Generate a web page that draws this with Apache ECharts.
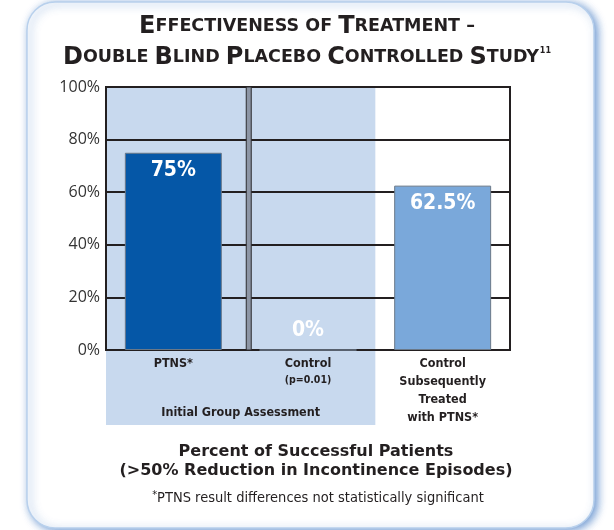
<!DOCTYPE html>
<html>
<head>
<meta charset="utf-8">
<script src="https://cdn.jsdelivr.net/npm/echarts@6/dist/echarts.min.js"></script>
<style>
  html, body { margin: 0; padding: 0; background: #fff; }
  #chart { width: 614px; height: 530px; }
</style>
</head>
<body>
<div id="chart"></div>
<script>
// data
var categories = ['PTNS*', 'Control', 'Control Subsequently Treated with PTNS*'];
var catLines = [['PTNS*'], ['Control'], ['Control', 'Subsequently', 'Treated', 'with PTNS*']];
var catNotes = ['', '(p=0.01)', ''];
var values = [75, 0, 62.5];
var valueLabels = ['75%', '0%', '62.5%'];
var barColors = ['#0557a7', '#7aa8da', '#7aa8da'];

var narrow = '"DejaVu Sans Condensed", "Liberation Sans Narrow", "Liberation Sans", sans-serif';
var heavy = '"DejaVu Sans", sans-serif';

var myChart = echarts.init(document.getElementById('chart'));

var option = {
  animation: false,
  title: [
    {
      left: 'center',
      top: 6,
      text: '{b|E}{s|FFECTIVENESS OF }{b|T}{s|REATMENT –}\n' +
        '{b|D}{s|OUBLE }{b|B}{s|LIND }{b|P}{s|LACEBO }{b|C}{s|ONTROLLED }{b|S}{s|TUDY}{sup|11}',
      textStyle: {
        rich: {
          b: { fontFamily: heavy, fontWeight: 'bold', fontSize: 24, color: '#231f20', lineHeight: 31 },
          s: { fontFamily: heavy, fontWeight: 'bold', fontSize: 17.5, color: '#231f20', lineHeight: 31 },
          sup: { fontFamily: heavy, fontWeight: 'bold', fontSize: 8, color: '#231f20', lineHeight: 31, padding: [0, 0, 13, 1] }
        }
      }
    }
  ],
  grid: {
    left: 106,
    right: 104,
    top: 87,
    bottom: 180,
    show: true,
    borderColor: '#231f20',
    borderWidth: 2,
    backgroundColor: 'transparent'
  },
  xAxis: {
    type: 'category',
    data: categories,
    axisTick: { show: false },
    axisLine: { lineStyle: { color: '#231f20', width: 2 } },
    axisLabel: {
      interval: 0,
      margin: 5,
      formatter: function (v, i) {
        var s = catLines[i].map(function (l) { return '{n|' + l + '}'; }).join('\n');
        if (catNotes[i]) s += '\n{p|' + catNotes[i] + '}';
        return s;
      },
      rich: {
        n: { fontFamily: narrow, fontWeight: 'bold', fontSize: 12.5, color: '#231f20', lineHeight: 18, align: 'center' },
        p: { fontFamily: narrow, fontWeight: 'bold', fontSize: 10.5, color: '#231f20', lineHeight: 14, align: 'center' }
      }
    }
  },
  yAxis: {
    type: 'value',
    min: 0,
    max: 100,
    interval: 20,
    axisLine: { show: true, lineStyle: { color: '#231f20', width: 2 } },
    axisTick: { show: false },
    splitLine: { lineStyle: { color: '#231f20', width: 2 } },
    axisLabel: {
      formatter: '{value}%',
      margin: 6,
      fontFamily: '"Open Sans", sans-serif',
      fontSize: 16,
      color: '#333'
    }
  },
  series: [
    {
      type: 'bar',
      barWidth: '72%',
      data: values.map(function (v, i) {
        var item = {
          value: v,
          itemStyle: { color: barColors[i] }
        };
        if (v === 0) {
          item.label = { position: 'top', distance: 8 };
        }
        return item;
      }),
      itemStyle: { borderColor: '#6a7888', borderWidth: 1 },
      label: {
        show: true,
        position: 'insideTop',
        distance: 7,
        formatter: function (p) { return valueLabels[p.dataIndex]; },
        fontFamily: narrow,
        fontWeight: 'bold',
        fontSize: 21,
        color: '#fff'
      }
    }
  ]
};

myChart.setOption(option);

// background shading, separator, frame and notes placed from the axes
var c0 = myChart.convertToPixel({ xAxisIndex: 0 }, 0);
var c1 = myChart.convertToPixel({ xAxisIndex: 0 }, 1);
var bandW = c1 - c0;
var yTop = myChart.convertToPixel({ yAxisIndex: 0 }, 100);
var yZero = myChart.convertToPixel({ yAxisIndex: 0 }, 0);
var shadeL = c0 - bandW / 2;
var shadeR = c1 + bandW / 2;
var sepX = c0 - bandW / 2 + bandW * 1.06;

myChart.setOption({
  graphic: [
    {
      type: 'rect',
      z: -20,
      shape: { x: 27, y: 2, width: 567, height: 526, r: 28 },
      style: {
        fill: '#fff',
        stroke: '#b8d0ec',
        lineWidth: 1.5,
        shadowColor: 'rgba(50,110,190,0.7)',
        shadowBlur: 8,
        shadowOffsetX: 3,
        shadowOffsetY: 2
      }
    },
    {
      type: 'rect',
      z: -5,
      shape: { x: shadeL, y: yTop, width: shadeR - shadeL, height: yZero - yTop + 75 },
      style: { fill: '#c8d9ee' }
    },
    {
      type: 'rect',
      z: 5,
      shape: { x: sepX - 2.5, y: yTop, width: 5, height: yZero - yTop },
      style: { fill: '#8d96a5', stroke: '#2a2a2e', lineWidth: 1 }
    },
    {
      type: 'text',
      z: 5,
      x: (shadeL + shadeR) / 2,
      y: yZero + 63,
      style: {
        text: 'Initial Group Assessment',
        fontFamily: narrow,
        fontWeight: 'bold',
        fontSize: 12.5,
        fill: '#231f20',
        align: 'center',
        verticalAlign: 'middle'
      }
    },
    {
      type: 'text',
      x: 316,
      y: 461,
      style: {
        text: 'Percent of Successful Patients\n(>50% Reduction in Incontinence Episodes)',
        fontFamily: heavy,
        fontWeight: 'bold',
        fontSize: 16,
        lineHeight: 19,
        fill: '#231f20',
        align: 'center',
        verticalAlign: 'middle'
      }
    },
    {
      type: 'text',
      x: 318,
      y: 498,
      style: {
        text: '{sup|*}{t|PTNS result differences not statistically significant}',
        align: 'center',
        verticalAlign: 'middle',
        rich: {
          t: { fontFamily: narrow, fontSize: 14.5, fill: '#231f20', lineHeight: 20 },
          sup: { fontFamily: narrow, fontSize: 11, fill: '#231f20', lineHeight: 20, padding: [0, 0, 5, 0] }
        }
      }
    }
  ]
});
</script>
</body>
</html>
